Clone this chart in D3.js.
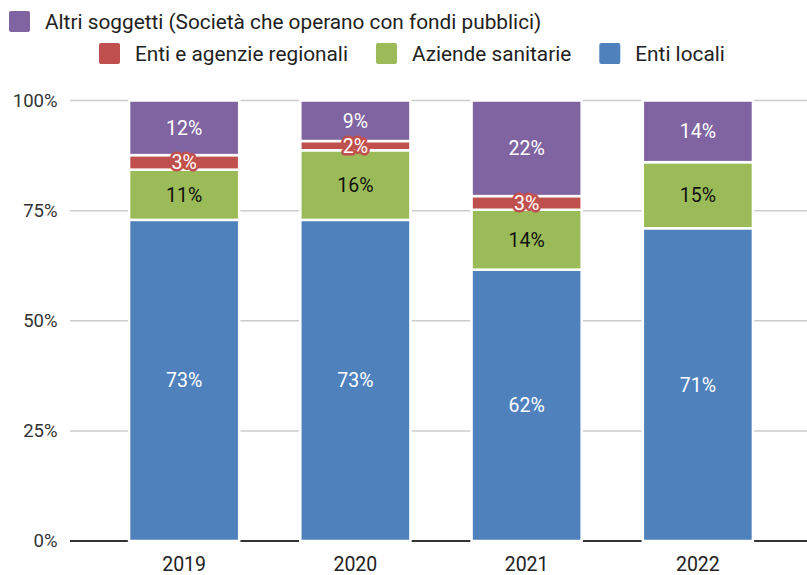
<!DOCTYPE html>
<html>
<head>
<meta charset="utf-8">
<script src="https://cdn.jsdelivr.net/npm/d3@7"></script>
<style>
  html, body { margin: 0; padding: 0; background: #fff; }
  svg { display: block; font-family: Roboto, "Noto Sans", sans-serif; }
</style>
</head>
<body>
<svg id="chart" width="807" height="575"></svg>
<script>
const years = ["2019", "2020", "2021", "2022"];
const entiLocali = [72.9, 72.9, 61.6, 71.0];
const aziendeSanitarie = [11.4, 15.8, 13.6, 15.0];
const entiRegionali = [3.3, 2.1, 3.1, 0];
const altriSoggetti = [12.4, 9.2, 21.7, 14.0];
const yTicks = [0, 25, 50, 75, 100];

const seriesNames = ["Enti locali", "Aziende sanitarie", "Enti e agenzie regionali", "Altri soggetti (Società che operano con fondi pubblici)"];
const seriesValues = [entiLocali, aziendeSanitarie, entiRegionali, altriSoggetti];
const colors = ["#4F81BD", "#9BBB59", "#C0504D", "#8064A2"];
const labelColors = ["#ffffff", "#111111", "#ffffff", "#ffffff"];

const svg = d3.select("#chart");

const x = d3.scaleBand().domain(years).range([98.5, 783.5]).paddingInner(0.357).paddingOuter(0.1785);
const y = d3.scaleLinear().domain([0, 100]).range([541, 100.5]);

// gridlines
const gridX0 = 70, gridX1 = 807;
svg.append("g").selectAll("line").data(yTicks.filter(t => t > 0)).join("line")
  .attr("x1", gridX0).attr("x2", gridX1)
  .attr("y1", d => y(d)).attr("y2", d => y(d))
  .attr("stroke", "#cccccc").attr("stroke-width", 1.5);

// zero line
svg.append("line").attr("x1", gridX0).attr("x2", gridX1)
  .attr("y1", y(0)).attr("y2", y(0))
  .attr("stroke", "#333333").attr("stroke-width", 2);

// y axis labels via d3 axis
const yAxis = d3.axisLeft(y).tickValues(yTicks).tickFormat(d => d + "%").tickSize(0).tickPadding(0);
const yg = svg.append("g").attr("transform", "translate(57.5,0)").call(yAxis);
yg.select(".domain").remove();
yg.selectAll("text").attr("font-size", 18.5).attr("fill", "#333").attr("font-family", "Roboto");

// x axis labels
const xAxis = d3.axisBottom(x).tickSize(0).tickPadding(0);
const xg = svg.append("g").attr("transform", "translate(0,557)").call(xAxis);
xg.select(".domain").remove();
xg.selectAll("text").attr("font-size", 19.5).attr("fill", "#222").attr("font-family", "Roboto");

// stack data
const table = years.map((yr, i) => {
  const o = { year: yr };
  seriesNames.forEach((n, j) => o[n] = seriesValues[j][i]);
  return o;
});
const stack = d3.stack().keys(seriesNames)(table);

const gBars = svg.append("g");
stack.forEach((layer, j) => {
  const g = gBars.append("g");
  g.selectAll("rect").data(layer.filter(d => d[1] - d[0] > 0)).join("rect")
    .attr("x", d => x(d.data.year))
    .attr("width", x.bandwidth())
    .attr("y", d => y(d[1]))
    .attr("height", d => y(d[0]) - y(d[1]))
    .attr("fill", colors[j])
    .attr("stroke", "#ffffff").attr("stroke-width", 2.5);
});

// labels
stack.forEach((layer, j) => {
  const g = svg.append("g");
  const t = g.selectAll("text").data(layer.filter(d => d[1] - d[0] > 0)).join("text")
    .attr("x", d => x(d.data.year) + x.bandwidth() / 2)
    .attr("y", d => (y(d[0]) + y(d[1])) / 2)
    .attr("dy", "0.36em")
    .attr("text-anchor", "middle")
    .attr("font-size", 19.5)
    .attr("fill", labelColors[j])
    .text(d => Math.round(d[1] - d[0]) + "%");
  if (j === 2) {
    t.attr("stroke", colors[2]).attr("stroke-width", 5).attr("stroke-linejoin", "round")
     .attr("paint-order", "stroke");
  }
});

// legend
const legendRows = [
  { x: 9, y: 21.5, items: [3] },
  { x: 99, y: 53.5, items: [2, 1, 0] }
];
legendRows.forEach(row => {
  let cx = row.x;
  row.items.forEach(j => {
    svg.append("rect").attr("x", cx).attr("y", row.y - 10.5).attr("width", 21).attr("height", 21)
      .attr("rx", 2).attr("fill", colors[j]);
    const txt = svg.append("text").attr("x", cx + 36).attr("y", row.y).attr("dy", "0.36em")
      .attr("font-size", 20.8).attr("fill", "#222").text(seriesNames[j]);
    const w = txt.node().getComputedTextLength();
    cx = cx + 36 + w + 28;
  });
});
</script>
</body>
</html>
